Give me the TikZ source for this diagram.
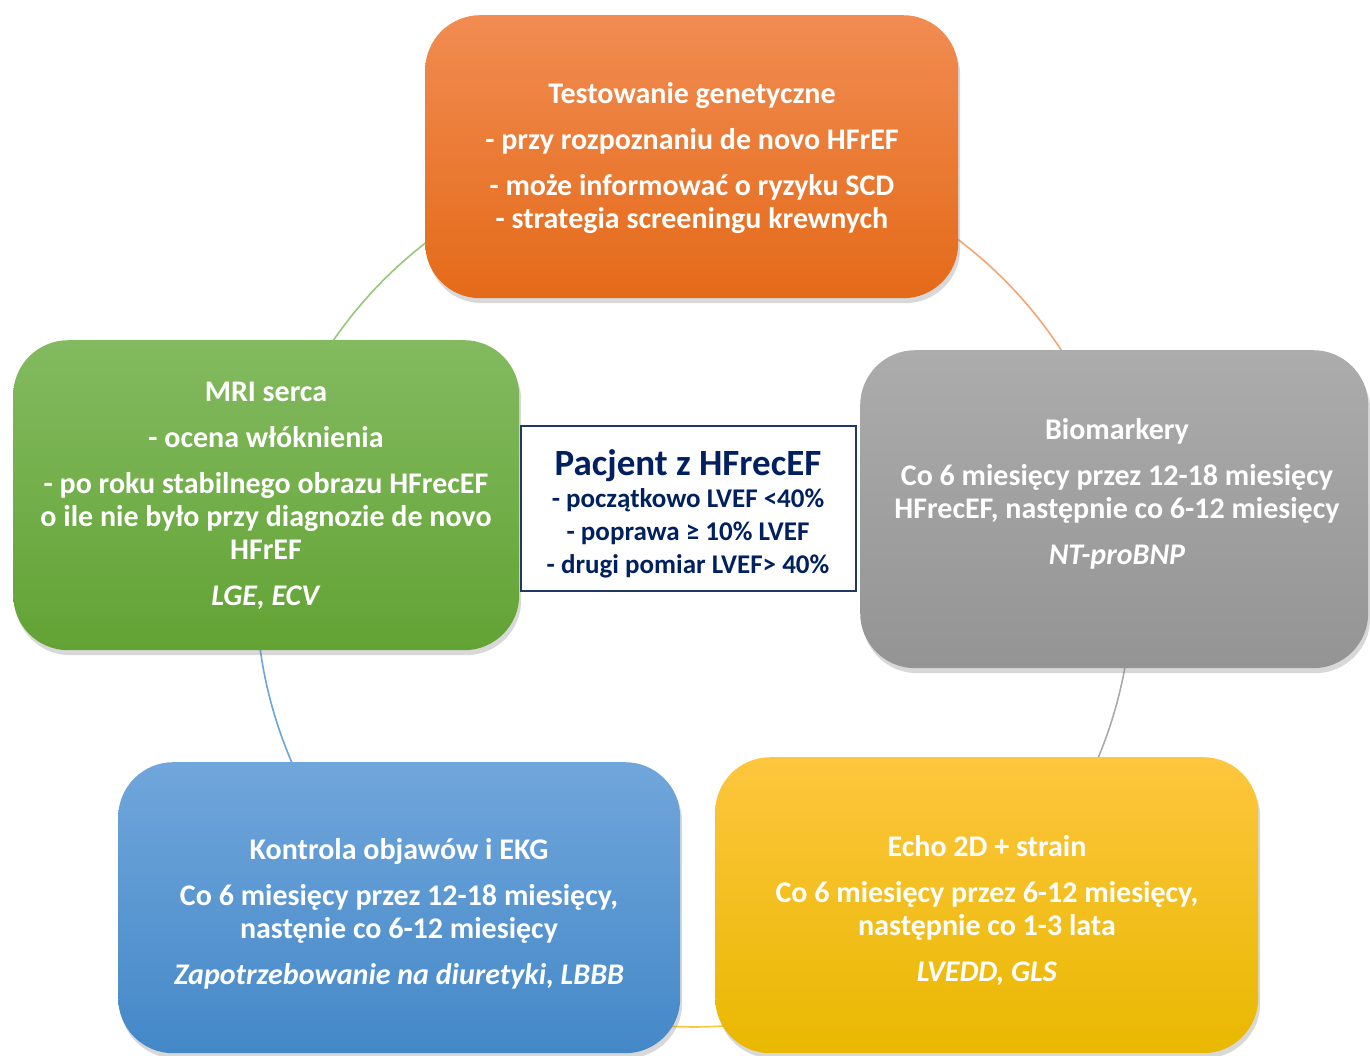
\documentclass[tikz,border=0pt]{standalone}
\usepackage{fontspec}
\setmainfont{Carlito}
\usetikzlibrary{shadows}
\definecolor{orT}{RGB}{241,140,82}
\definecolor{orB}{RGB}{228,106,24}
\definecolor{grT}{RGB}{131,186,96}
\definecolor{grB}{RGB}{98,163,52}
\definecolor{gyT}{RGB}{172,172,172}
\definecolor{gyB}{RGB}{148,148,148}
\definecolor{blT}{RGB}{112,166,219}
\definecolor{blB}{RGB}{68,136,200}
\definecolor{yeT}{RGB}{253,198,62}
\definecolor{yeB}{RGB}{233,184,0}
\definecolor{navy}{RGB}{0,32,96}
\definecolor{navyb}{RGB}{32,56,100}
\definecolor{arcG}{RGB}{150,200,120}
\definecolor{arcO}{RGB}{245,165,115}
\definecolor{arcGy}{RGB}{170,170,170}
\definecolor{arcY}{RGB}{250,200,60}
\definecolor{arcB}{RGB}{105,165,222}
\begin{document}
\begin{tikzpicture}[x=1pt,y=-1pt,
  box/.style={rounded corners=55pt, draw=none, inner sep=0pt, anchor=north west,
    drop shadow={opacity=0.3, shadow xshift=2pt, shadow yshift=-5pt}},
  txt/.style={text=white, font=\fontsize{30}{33}\selectfont\bfseries, align=center, inner sep=0pt},
  arcln/.style={line width=1.6pt}]
\useasboundingbox[fill=white] (0,0) rectangle (1370,1055);
\coordinate (C) at (694,589);
% cycle arcs
\draw[arcln, arcG] (C) ++(-168:438) arc[start angle=-168, end angle=-90, radius=438];
\draw[arcln, arcO] (C) ++(-90:438) arc[start angle=-90, end angle=-10, radius=438];
\draw[arcln, arcGy] (C) ++(-10:438) arc[start angle=-10, end angle=47.6, radius=438];
\draw[arcln, arcY] (C) ++(47.6:438) arc[start angle=47.6, end angle=132.5, radius=438];
\draw[arcln, arcB] (C) ++(132.5:438) arc[start angle=132.5, end angle=192, radius=438];
% boxes
\node[box, top color=orT, bottom color=orB, minimum width=533pt, minimum height=283pt] (gen) at (425,15) {};
\node[box, top color=grT, bottom color=grB, minimum width=506pt, minimum height=310pt] (mri) at (13,340) {};
\node[box, top color=gyT, bottom color=gyB, minimum width=508pt, minimum height=318pt] (bio) at (860,350) {};
\node[box, top color=blT, bottom color=blB, minimum width=562pt, minimum height=291pt] (kon) at (118,762) {};
\node[box, top color=yeT, bottom color=yeB, minimum width=543pt, minimum height=296pt] (echo) at (715,757) {};
\node[draw=navyb, line width=1.6pt, fill=white, anchor=north west, inner sep=0pt,
  minimum width=335pt, minimum height=165pt] (pac) at (520,425) {};
% texts
\node[txt] (gent) at (692,158) {Testowanie genetyczne\\[13pt]- przy rozpoznaniu de novo HFrEF\\[13pt]- może informować o ryzyku SCD\\- strategia screeningu krewnych};
\node[txt] (mrit) at (266,496) {MRI serca\\[13pt]- ocena włóknienia\\[13pt]- po roku stabilnego obrazu HFrecEF\\o ile nie było przy diagnozie de novo\\HFrEF\\[13pt]\textit{LGE, ECV}};
\node[txt] (biot) at (1117,494) {Biomarkery\\[13pt]Co 6 miesięcy przez 12-18 miesięcy\\HFrecEF, następnie co 6-12 miesięcy\\[13pt]\textit{NT-proBNP}};
\node[txt] (kont) at (399,914) {Kontrola objawów i EKG\\[13pt]Co 6 miesięcy przez 12-18 miesięcy,\\nastęnie co 6-12 miesięcy\\[13pt]\textit{Zapotrzebowanie na diuretyki, LBBB}};
\node[txt] (echot) at (987,910) {Echo 2D + strain\\[13pt]Co 6 miesięcy przez 6-12 miesięcy,\\następnie co 1-3 lata\\[13pt]\textit{LVEDD, GLS}};
\node[text=navy, font=\fontsize{27}{33}\selectfont\bfseries, align=center, inner sep=0pt] (pact) at (688,514)
  {{\fontsize{37}{40}\selectfont Pacjent z HFrecEF}\\[-1pt]- początkowo LVEF <40\%\\- poprawa ≥ 10\% LVEF\\- drugi pomiar LVEF> 40\%};
\end{tikzpicture}
\end{document}
